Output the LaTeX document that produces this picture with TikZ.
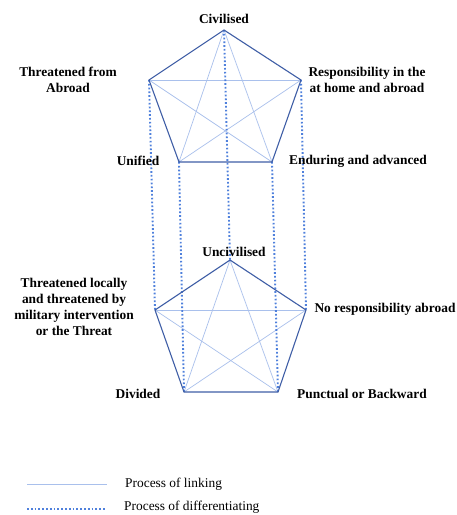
\documentclass[tikz,border=0pt]{standalone}
\usepackage{fontspec}
\setmainfont{Liberation Serif}
\begin{document}
\begin{tikzpicture}[x=1pt,y=-1pt,
  outline/.style={draw=edgeblue,line width=1.1pt,line join=miter},
  linking/.style={draw=linkblue,line width=0.7pt},
  diff/.style={draw=diffblue,line width=1.9pt,dash pattern=on 1.7pt off 2.1pt},
  lbl/.style={font=\bfseries\fontsize{13.4}{16}\selectfont,align=center,inner sep=0pt},
  leg/.style={font=\fontsize{13.4}{16}\selectfont,anchor=west,inner sep=0pt}]
\definecolor{edgeblue}{HTML}{3F5EA6}
\definecolor{linkblue}{HTML}{A9C0EC}
\definecolor{diffblue}{HTML}{4F80DC}
\useasboundingbox[fill=white] (0,0) rectangle (456,515);
% top pentagon
\coordinate (tT) at (224,30);
\coordinate (tL) at (149,80);
\coordinate (tR) at (301,80);
\coordinate (tBL) at (179,162);
\coordinate (tBR) at (272,162);
% bottom pentagon
\coordinate (bT) at (230,260);
\coordinate (bL) at (155,310);
\coordinate (bR) at (306,310);
\coordinate (bBL) at (184,392);
\coordinate (bBR) at (278,392);
% linking diagonals
\foreach \p in {t,b}{
  \draw[linking] (\p L) -- (\p R);
  \draw[linking] (\p T) -- (\p BL);
  \draw[linking] (\p T) -- (\p BR);
  \draw[linking] (\p L) -- (\p BR);
  \draw[linking] (\p R) -- (\p BL);
}
% differentiating
\draw[diff] (tT) -- (bT);
\draw[diff] (tL) -- (bL);
\draw[diff] (tR) -- (bR);
\draw[diff] (tBL) -- (bBL);
\draw[diff] (tBR) -- (bBR);
% outlines
\draw[outline] (tT) -- (tR) -- (tBR) -- (tBL) -- (tL) -- cycle;
\draw[outline] (bT) -- (bR) -- (bBR) -- (bBL) -- (bL) -- cycle;
% labels
\node[lbl] (lCiv) at (224,19) {Civilised};
\node[lbl] (lThrA) at (68,80) {Threatened from\\Abroad};
\node[lbl] (lResp) at (367,80) {Responsibility in the\\at home and abroad};
\node[lbl] (lUni) at (138,161) {Unified};
\node[lbl] (lEnd) at (358,161) {Enduring and advanced};
\node[lbl] (lUnc) at (234,252) {Uncivilised};
\node[lbl] (lThrL) at (74,307) {Threatened locally\\and threatened by\\military intervention\\or the Threat};
\node[lbl] (lNo) at (385,309) {No responsibility abroad};
\node[lbl] (lDiv) at (138,394) {Divided};
\node[lbl] (lPun) at (362,394) {Punctual or Backward};
% legend
\coordinate (la) at (27,484);
\coordinate (lb) at (107,484);
\coordinate (da) at (27,509);
\coordinate (db) at (105,509);
\draw[linking] (la) -- (lb);
\draw[diff] (da) -- (db);
\node[leg] (t1) at (125,484) {Process of linking};
\node[leg] (t2) at (124,507) {Process of differentiating};
\end{tikzpicture}
\end{document}
